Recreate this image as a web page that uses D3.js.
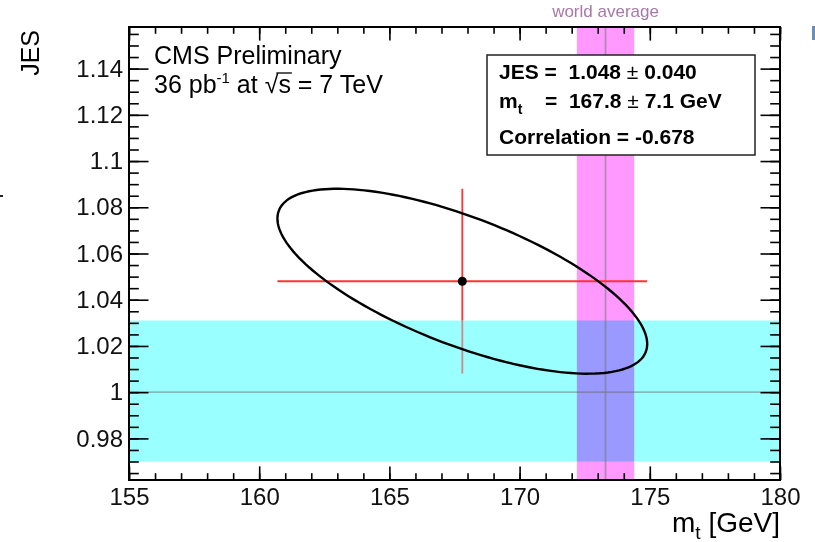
<!DOCTYPE html>
<html>
<head>
<meta charset="utf-8">
<script src="https://cdn.jsdelivr.net/npm/d3@7"></script>
<style>
  body { margin: 0; background: #fff; }
  svg { display: block; font-family: "Liberation Sans", Arial, Helvetica, sans-serif; }
  .pre { white-space: pre; }
</style>
</head>
<body>
<div id="mainDiv"></div>
<script>
'use strict';

var myApp = {};

// axis ranges and ticks
myApp.xDomain = [155, 180];
myApp.yDomain = [0.962, 1.158];
myApp.xTicks = [155, 160, 165, 170, 175, 180];
myApp.yTicks = [0.98, 1, 1.02, 1.04, 1.06, 1.08, 1.1, 1.12, 1.14];
myApp.xMinorTicks = d3.range(155, 181, 1);
myApp.yMinorTicks = d3.range(0.965, 1.158, 0.005);

// fit result
myApp.mt = 167.8;
myApp.mtErr = 7.1;
myApp.jes = 1.048;
myApp.jesErr = 0.040;
myApp.corr = -0.678;

// bands
myApp.jesBand = [0.97, 1.031];
myApp.worldAvgBand = [172.2, 174.4];
myApp.worldAvg = 173.3;

myApp.W = 815;
myApp.H = 542;
myApp.margins = { top: 27, bottom: 62, left: 129, right: 35 };
myApp.cw = myApp.W - myApp.margins.left - myApp.margins.right;
myApp.ch = myApp.H - myApp.margins.top - myApp.margins.bottom;

myApp.run = function () {
    var svg = d3.select('#mainDiv').append('svg')
        .attr('width', myApp.W)
        .attr('height', myApp.H);

    var g = svg.append('g')
        .attr('transform', 'translate(' + myApp.margins.left + ',' + myApp.margins.top + ')');

    var x = d3.scaleLinear().domain(myApp.xDomain).range([0, myApp.cw]);
    var y = d3.scaleLinear().domain(myApp.yDomain).range([myApp.ch, 0]);

    // red vertical error bar
    g.append('line')
        .attr('x1', x(myApp.mt)).attr('x2', x(myApp.mt))
        .attr('y1', y(myApp.jes - myApp.jesErr)).attr('y2', y(myApp.jes + myApp.jesErr))
        .attr('stroke', '#ff3333').attr('stroke-width', 1.8);

    // JES band
    g.append('rect')
        .attr('x', 0).attr('width', myApp.cw)
        .attr('y', y(myApp.jesBand[1]))
        .attr('height', y(myApp.jesBand[0]) - y(myApp.jesBand[1]))
        .attr('fill', '#99ffff');

    // part of the vertical bar seen through the band
    var lo = Math.max(myApp.jes - myApp.jesErr, myApp.jesBand[0]);
    var hi = Math.min(myApp.jes + myApp.jesErr, myApp.jesBand[1]);
    g.append('line')
        .attr('x1', x(myApp.mt)).attr('x2', x(myApp.mt))
        .attr('y1', y(lo)).attr('y2', y(hi))
        .attr('stroke', '#ff3333').attr('stroke-opacity', 0.6).attr('stroke-width', 1.8);

    // world average band
    g.append('rect')
        .attr('x', x(myApp.worldAvgBand[0]))
        .attr('width', x(myApp.worldAvgBand[1]) - x(myApp.worldAvgBand[0]))
        .attr('y', 0).attr('height', myApp.ch)
        .attr('fill', '#ff99ff')
        .style('mix-blend-mode', 'multiply');

    // reference lines
    g.append('line')
        .attr('x1', 0).attr('x2', myApp.cw)
        .attr('y1', y(1)).attr('y2', y(1))
        .attr('stroke', '#666').attr('stroke-opacity', 0.6).attr('stroke-width', 1.2);
    g.append('line')
        .attr('x1', x(myApp.worldAvg)).attr('x2', x(myApp.worldAvg))
        .attr('y1', 0).attr('y2', myApp.ch)
        .attr('stroke', '#777').attr('stroke-opacity', 0.55).attr('stroke-width', 1.8);

    // horizontal error bar
    g.append('line')
        .attr('x1', x(myApp.mt - myApp.mtErr)).attr('x2', x(myApp.mt + myApp.mtErr))
        .attr('y1', y(myApp.jes)).attr('y2', y(myApp.jes))
        .attr('stroke', '#ff3333').attr('stroke-width', 1.8);

    // 1 sigma contour from the fit covariance
    var ang = d3.range(0, 2 * Math.PI + 0.01, Math.PI / 90);
    var s = Math.sqrt(1 - myApp.corr * myApp.corr);
    var line = d3.line()
        .x(function (t) { return x(myApp.mt + myApp.mtErr * Math.cos(t)); })
        .y(function (t) { return y(myApp.jes + myApp.jesErr * (myApp.corr * Math.cos(t) + s * Math.sin(t))); })
        .curve(d3.curveLinearClosed);
    g.append('path')
        .datum(ang)
        .attr('d', line)
        .attr('fill', 'none')
        .attr('stroke', '#000')
        .attr('stroke-width', 2.4);

    g.append('circle')
        .attr('cx', x(myApp.mt)).attr('cy', y(myApp.jes))
        .attr('r', 4.5).attr('fill', '#000');

    // axes, ticks pointing inward
    var xMaj = 13.6, xMin = 6.8, yMaj = 19.5, yMin = 9.8;
    var fmtY = function (d) { return d3.format('')(+d.toFixed(2)); };

    var bottom = g.append('g').attr('transform', 'translate(0,' + myApp.ch + ')');
    bottom.call(d3.axisBottom(x).tickValues(myApp.xMinorTicks).tickSize(-xMin).tickFormat(''));
    bottom.append('g').call(d3.axisBottom(x).tickValues(myApp.xTicks).tickSize(-xMaj).tickPadding(8).tickFormat(d3.format('d')));

    var top = g.append('g');
    top.call(d3.axisTop(x).tickValues(myApp.xMinorTicks).tickSize(-xMin).tickFormat(''));
    top.append('g').call(d3.axisTop(x).tickValues(myApp.xTicks).tickSize(-xMaj).tickFormat(''));

    var left = g.append('g');
    left.call(d3.axisLeft(y).tickValues(myApp.yMinorTicks).tickSize(-yMin).tickFormat(''));
    left.append('g').call(d3.axisLeft(y).tickValues(myApp.yTicks).tickSize(-yMaj).tickPadding(6).tickFormat(fmtY));

    var right = g.append('g').attr('transform', 'translate(' + myApp.cw + ',0)');
    right.call(d3.axisRight(y).tickValues(myApp.yMinorTicks).tickSize(-yMin).tickFormat(''));
    right.append('g').call(d3.axisRight(y).tickValues(myApp.yTicks).tickSize(-yMaj).tickFormat(''));

    g.selectAll('.domain').remove();
    g.selectAll('.tick line').attr('stroke', '#000').attr('stroke-width', 1.6);
    g.selectAll('.tick text')
        .attr('font-size', '24px')
        .attr('fill', '#111')
        .attr('font-family', '"Liberation Sans", Arial, sans-serif');

    g.append('rect')
        .attr('width', myApp.cw).attr('height', myApp.ch)
        .attr('fill', 'none').attr('stroke', '#000').attr('stroke-width', 2);

    // axis titles
    svg.append('text')
        .attr('transform', 'translate(39,30) rotate(-90)')
        .attr('text-anchor', 'end')
        .attr('font-size', '25px')
        .text('JES');

    var xt = svg.append('text')
        .attr('x', myApp.margins.left + myApp.cw).attr('y', 532)
        .attr('text-anchor', 'end')
        .attr('font-size', '28px');
    xt.append('tspan').text('m');
    xt.append('tspan').attr('dy', 7).attr('font-size', '19px').text('t');
    xt.append('tspan').attr('dy', -7).text(' [GeV]');

    // top left label
    svg.append('text').attr('x', 154).attr('y', 64).attr('font-size', '25px').text('CMS Preliminary');
    var lum = svg.append('text').attr('x', 154).attr('y', 93).attr('font-size', '25px');
    lum.append('tspan').text('36 pb');
    lum.append('tspan').attr('dy', -10).attr('font-size', '15px').text('-1');
    lum.append('tspan').attr('dy', 10).text(' at \u221A');
    var sLetter = lum.append('tspan').text('s');
    lum.append('tspan').text(' = 7 TeV');
    var sb = sLetter.node().getBBox();
    svg.append('line')
        .attr('x1', sb.x - 2).attr('x2', sb.x + sb.width + 1)
        .attr('y1', 73).attr('y2', 73)
        .attr('stroke', '#111').attr('stroke-width', 1.4);

    // world average label
    svg.append('text')
        .attr('x', x(myApp.worldAvg) + myApp.margins.left).attr('y', 17)
        .attr('text-anchor', 'middle')
        .attr('font-size', '17px')
        .attr('fill', '#a878a8')
        .text('world average');

    // result box
    svg.append('rect')
        .attr('x', 487).attr('y', 55).attr('width', 268).attr('height', 100)
        .attr('fill', '#fff').attr('stroke', '#222').attr('stroke-width', 1.5);

    var pm = ' \u00B1 ';
    var t1 = svg.append('text').attr('class', 'pre').attr('x', 499).attr('y', 79).attr('font-size', '21px').attr('font-weight', 'bold');
    t1.append('tspan').text('JES =  ' + myApp.jes.toFixed(3));
    t1.append('tspan').attr('font-weight', 'normal').text(pm);
    t1.append('tspan').text(myApp.jesErr.toFixed(3));

    var t2 = svg.append('text').attr('class', 'pre').attr('x', 499).attr('y', 108).attr('font-size', '21px').attr('font-weight', 'bold');
    t2.append('tspan').text('m');
    t2.append('tspan').attr('dy', 6).attr('font-size', '14px').text('t');
    t2.append('tspan').attr('x', 545).attr('dy', -6).text('=  ' + myApp.mt.toFixed(1));
    t2.append('tspan').attr('font-weight', 'normal').text(pm);
    t2.append('tspan').text(myApp.mtErr.toFixed(1) + ' GeV');

    svg.append('text').attr('x', 499).attr('y', 144).attr('font-size', '21px').attr('font-weight', 'bold')
        .text('Correlation = ' + myApp.corr.toFixed(3));

    // small stray marks at the image edges
    svg.append('rect').attr('x', 0).attr('y', 195).attr('width', 3).attr('height', 2).attr('fill', '#222');
    svg.append('rect').attr('x', 812).attr('y', 26).attr('width', 3).attr('height', 14).attr('fill', '#6a90b8');
};

window.onload = myApp.run;
</script>
</body>
</html>
